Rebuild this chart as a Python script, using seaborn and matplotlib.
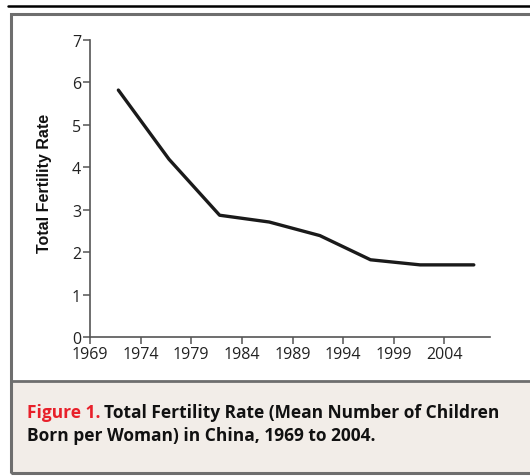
import numpy as np
import pandas as pd
import matplotlib
matplotlib.use('Agg')
import matplotlib.pyplot as plt
import seaborn as sns
from matplotlib.patches import Rectangle
from matplotlib.lines import Line2D

# data
years = [1971.8, 1976.8, 1981.8, 1986.7, 1991.7, 1996.7, 2001.6, 2006.9]
tfr = [5.82, 4.19, 2.87, 2.71, 2.39, 1.82, 1.70, 1.70]
xticks = [1969, 1974, 1979, 1984, 1989, 1994, 1999, 2004]
yticks = [0, 1, 2, 3, 4, 5, 6, 7]

data = pd.DataFrame({'year': years, 'tfr': tfr})

sns.set_style('white')
plt.rcParams['font.family'] = ['Open Sans', 'DejaVu Sans']

W, H = 530, 477
fig = plt.figure(figsize=(W / 100, H / 100), dpi=100)

def fx(px):
    return px / W

def fy(py):
    return 1 - py / H

# frame: top rule, grey box, beige caption panel
fig.add_artist(Line2D([fx(8), fx(530)], [fy(7), fy(7)], color='black', lw=1.8))
fig.add_artist(Rectangle((fx(11), fy(474)), fx(530), fy(383) - fy(474),
                         facecolor='#f2ede8', edgecolor='none'))
fig.add_artist(Rectangle((fx(11), fy(474)), fx(540), fy(15) - fy(474),
                         facecolor='none', edgecolor='#6e6e6e', lw=2.2))
fig.add_artist(Line2D([fx(11), fx(530)], [fy(382), fy(382)], color='#6e6e6e', lw=2.0))

ax = fig.add_axes([fx(90), fy(338), fx(490) - fx(90), fy(41) - fy(338)])
sns.lineplot(data=data, x='year', y='tfr', ax=ax, color='#1a1a1a', lw=2.4)

ax.set_xlim(1969, 2008.5)
ax.set_ylim(0, 7)
ax.set_xticks(xticks)
ax.set_yticks(yticks)
ax.set_xlabel('')
ax.set_ylabel('Total Fertility Rate', family=['Liberation Sans'], fontweight='bold',
              fontsize=11.5, color='#111111')
ax.yaxis.set_label_coords(-0.095, 0.52)
for s in ['top', 'right']:
    ax.spines[s].set_visible(False)
for s in ['left', 'bottom']:
    ax.spines[s].set_color('#555555')
    ax.spines[s].set_linewidth(1.2)
ax.tick_params(axis='both', direction='out', length=5, width=1.1, color='#555555',
               labelsize=11.5, labelcolor='#222222', pad=1.5, bottom=True, left=True)
ax.patch.set_alpha(0)

fig1 = fig.text(fx(27), fy(418), 'Figure 1.', color='#e8202a', fontsize=12.5,
                fontweight='bold', va='baseline')
fig.canvas.draw()
bb = fig1.get_window_extent()
fig.text(bb.x1 / W + fx(4), fy(418), 'Total Fertility Rate (Mean Number of Children',
         color='#111111', fontsize=12.5, fontweight='bold', va='baseline')
fig.text(fx(27), fy(441), 'Born per Woman) in China, 1969 to 2004.', color='#111111',
         fontsize=12.5, fontweight='bold', va='baseline')

fig.savefig('out.png', dpi=100)
